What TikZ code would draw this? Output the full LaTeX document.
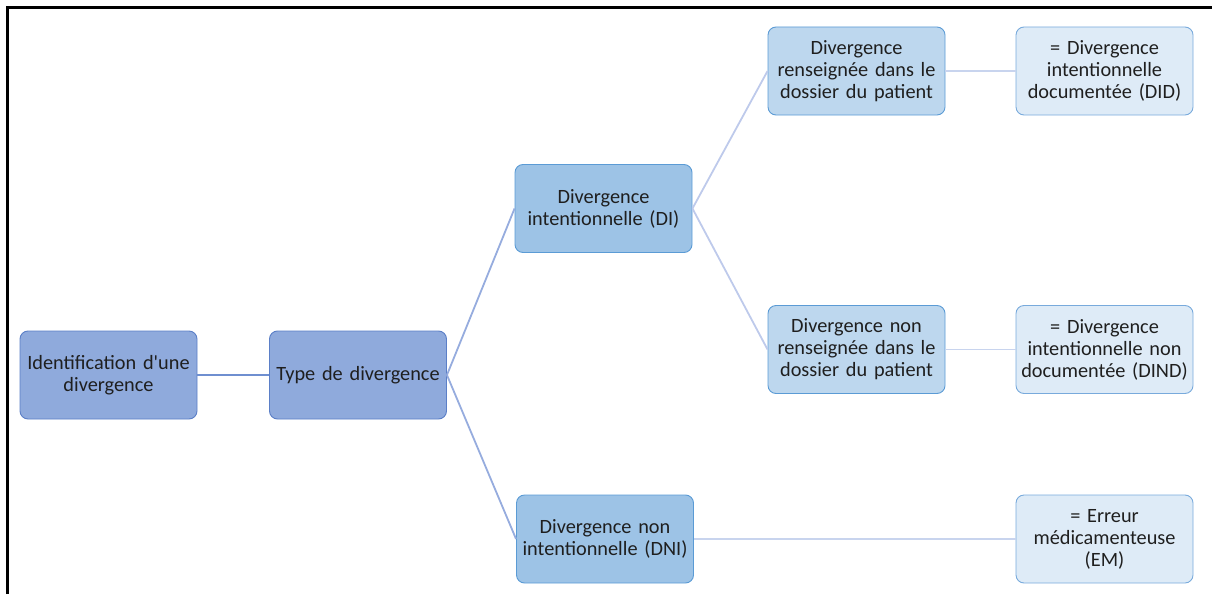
\documentclass[tikz,border=0pt]{standalone}
\usepackage{fontspec}
\newfontfamily\calfont{Carlito}
\begin{document}
\begin{tikzpicture}[x=1pt,y=-1pt,
  base/.style={rounded corners=8pt, line width=0.9pt, align=center, text width=174pt,
    minimum width=177pt, minimum height=88pt, inner sep=0pt,
    font=\calfont\fontsize{20.3}{22}\selectfont, text=black!88},
  lvla/.style={base, fill={rgb,255:red,143;green,170;blue,220}, draw={rgb,255:red,91;green,127;blue,199}},
  lvlb/.style={base, fill={rgb,255:red,157;green,195;blue,230}, draw={rgb,255:red,91;green,155;blue,213}},
  lvlc/.style={base, fill={rgb,255:red,189;green,215;blue,238}, draw={rgb,255:red,91;green,155;blue,213}},
  lvld/.style={base, fill={rgb,255:red,222;green,235;blue,247}, draw={rgb,255:red,120;green,170;blue,220}},
  conA/.style={draw={rgb,255:red,111;green,143;blue,208}, line width=1.8pt},
  conB/.style={draw={rgb,255:red,150;green,172;blue,222}, line width=1.8pt},
  conC/.style={draw={rgb,255:red,190;green,202;blue,235}, line width=1.8pt},
  conD/.style={draw={rgb,255:red,200;green,212;blue,238}, line width=1.8pt}]
\useasboundingbox (0,0) rectangle (1212,594);
\draw[line width=2.2pt] (7.5,594) -- (7.5,7.5) -- (1212,7.5);
\node[lvla] (A) at (108.5,375) {Identification d'une\\divergence};
\node[lvla] (B) at (358,375) {Type de divergence};
\node[lvlb] (C) at (603.5,208.5) {Divergence\\intentionnelle (DI)};
\node[lvlb] (D) at (605,539) {Divergence non\\intentionnelle (DNI)};
\node[lvlc] (E) at (856.5,71) {Divergence\\renseignée dans le\\dossier du patient};
\node[lvlc] (F) at (856.5,349.5) {Divergence non\\renseignée dans le\\dossier du patient};
\node[lvld] (G) at (1104.5,71) {= Divergence\\intentionnelle\\documentée (DID)};
\node[lvld] (H) at (1104.5,349.5) {= Divergence\\intentionnelle non\\documentée (DIND)};
\node[lvld] (I) at (1104.5,539) {= Erreur\\médicamenteuse\\(EM)};
\draw[conA] (A.east) -- (B.west);
\draw[conB] (B.east) -- (C.west);
\draw[conB] (B.east) -- (D.west);
\draw[conC] (C.east) -- (E.west);
\draw[conC] (C.east) -- (F.west);
\draw[conD] (E.east) -- (G.west);
\draw[conD] (F.east) -- (H.west);
\draw[conD] (D.east) -- (I.west);
\end{tikzpicture}
\end{document}
